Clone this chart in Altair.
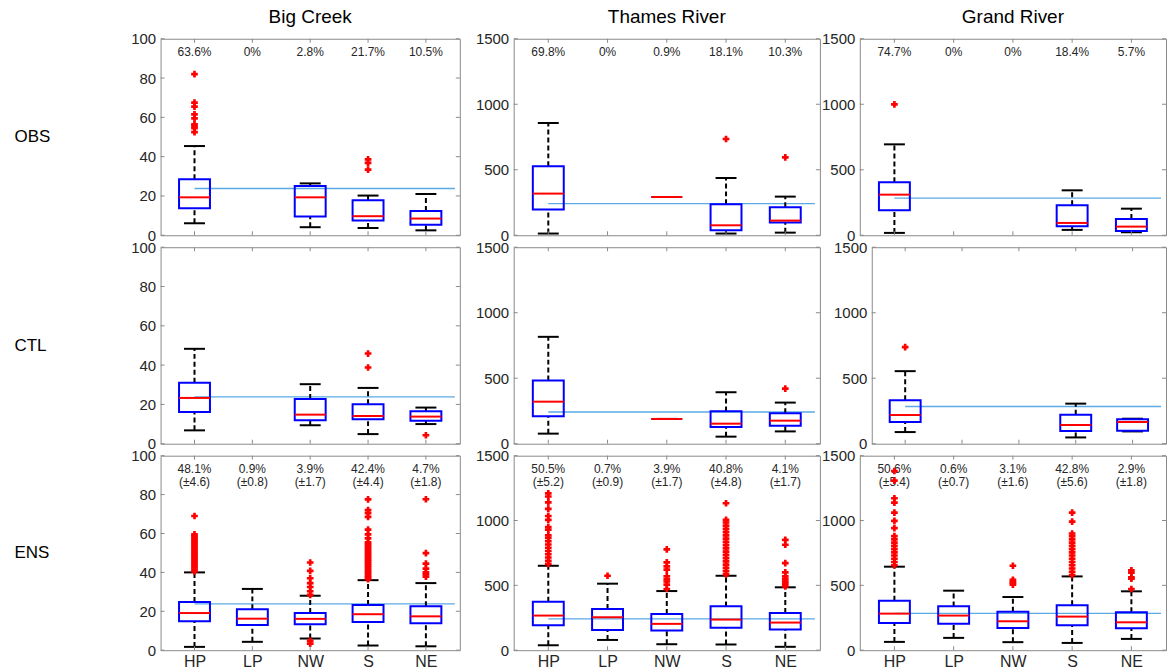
import altair as alt
import pandas as pd

CATS = ["HP", "LP", "NW", "S", "NE"]
SITES = ["Big Creek", "Thames River", "Grand River"]
ROWS = ["OBS", "CTL", "ENS"]
Y_MAX = [100, 1500, 1500]
Y_TICKS = [[0, 20, 40, 60, 80, 100], [0, 500, 1000, 1500], [0, 500, 1000, 1500]]
REF = [23.8, 242, 284]

# box stats per category: [lower whisker, q1, median, q3, upper whisker]
BC_OBS_BOX = [[6.1, 13.7, 19.3, 28.5, 45.4], None, [4.1, 9.5, 19.3, 25.1, 26.4],
              [3.7, 7.5, 9.7, 17.8, 20.2], [2.5, 5.4, 8.5, 12.4, 21.0]]
BC_OBS_OUT = [[52.5, 54.5, 55.5, 56.5, 59.5, 61.5, 65.5, 67.5, 82.0], [], [], [33.4, 36.8, 38.6], []]
BC_OBS_PCT = ["63.6%", "0%", "2.8%", "21.7%", "10.5%"]

BC_CTL_BOX = [[6.8, 16.2, 23.3, 31.0, 48.3], None, [9.4, 11.9, 14.8, 22.8, 30.3],
              [4.9, 12.4, 14.1, 20.1, 28.4], [10.0, 11.7, 13.8, 16.5, 18.4]]
BC_CTL_OUT = [[], [], [], [38.8, 45.9], [4.3]]

BC_ENS_BOX = [[1.7, 14.9, 19.1, 24.8, 40.0], [4.3, 13.0, 16.2, 21.0, 31.5], [6.0, 13.3, 16.1, 19.1, 28.0],
              [2.4, 14.5, 18.5, 23.2, 36.0], [2.0, 13.8, 17.4, 22.6, 34.5]]
BC_ENS_OUT = [[40.5, 41.5, 42.5, 43.5, 44.5, 45.5, 46.5, 47.5, 48.5, 49.5, 50.5, 51.5, 52.5, 53.5,
               54.5, 55.5, 56.5, 57.5, 58.5, 59.5, 69.0],
              [],
              [3.4, 4.8, 28.4, 30.3, 32.5, 34.5, 37.0, 40.8, 45.1],
              [36.5, 37.5, 38.5, 39.5, 40.5, 41.5, 42.5, 43.5, 44.5, 45.5, 46.5, 47.5, 48.5, 49.5, 50.5,
               51.5, 52.5, 53.5, 54.5, 55.5, 57.5, 59.5, 62.0, 68.5, 70.5, 72.0, 77.5],
              [37.8, 39.0, 40.0, 41.9, 44.5, 49.9, 77.6]]
BC_ENS_PCT = ["48.1%\n(±4.6)", "0.9%\n(±0.8)", "3.9%\n(±1.7)", "42.4%\n(±4.4)", "4.7%\n(±1.8)"]

TR_OBS_BOX = [[13, 196, 318, 526, 857], None, [292, 292, 292, 292, 292],
              [13, 38, 76, 236, 437], [20, 97, 112, 214, 295]]
TR_OBS_OUT = [[], [], [], [735], [595]]
TR_OBS_PCT = ["69.8%", "0%", "0.9%", "18.1%", "10.3%"]

TR_CTL_BOX = [[77, 209, 321, 482, 816], None, [189, 189, 189, 189, 189],
              [54, 128, 153, 247, 393], [94, 138, 176, 232, 314]]
TR_CTL_OUT = [[], [], [], [], [421]]

TR_ENS_BOX = [[38, 192, 267, 374, 651], [79, 156, 254, 318, 513], [46, 151, 203, 279, 456],
              [44, 174, 236, 338, 574], [26, 159, 213, 287, 485]]
TR_ENS_OUT = [[665, 690, 715, 740, 765, 790, 815, 840, 865, 885, 930, 950, 1005, 1035, 1090, 1140, 1185, 1210],
              [574],
              [472, 505, 530, 548, 570, 622, 646, 677, 777],
              [585, 610, 635, 660, 685, 710, 735, 760, 785, 810, 835, 860, 885, 910, 935, 960, 985, 1005, 1133],
              [492, 513, 530, 548, 569, 600, 672, 813, 851]]
TR_ENS_PCT = ["50.5%\n(±5.2)", "0.7%\n(±0.9)", "3.9%\n(±1.7)", "40.8%\n(±4.8)", "4.1%\n(±1.7)"]

GR_OBS_BOX = [[18, 191, 310, 404, 694], None, None, [41, 69, 94, 229, 343], [23, 33, 66, 125, 203]]
GR_OBS_OUT = [[999], [], [], [], []]
GR_OBS_PCT = ["74.7%", "0%", "0%", "18.4%", "5.7%"]

GR_CTL_BOX = [[89, 166, 219, 332, 554], None, None, [48, 97, 143, 222, 306], [94, 99, 166, 186, 191]]
GR_CTL_OUT = [[737], [], [], [], []]

GR_ENS_BOX = [[64, 210, 282, 382, 644], [95, 203, 267, 338, 459], [62, 172, 223, 297, 410],
              [56, 192, 259, 346, 569], [87, 169, 215, 292, 454]]
GR_ENS_OUT = [[655, 680, 705, 730, 755, 780, 805, 830, 855, 880, 941, 997, 1061, 1138, 1172, 1308, 1382],
              [],
              [505, 518, 530, 543, 651],
              [580, 605, 630, 655, 680, 705, 730, 755, 780, 805, 830, 855, 880, 900, 992, 1061],
              [472, 552, 562, 598, 615]]
GR_ENS_PCT = ["50.6%\n(±5.4)", "0.6%\n(±0.7)", "3.1%\n(±1.6)", "42.8%\n(±5.6)", "2.9%\n(±1.8)"]

PANELS = [
    [(BC_OBS_BOX, BC_OBS_OUT, BC_OBS_PCT), (TR_OBS_BOX, TR_OBS_OUT, TR_OBS_PCT), (GR_OBS_BOX, GR_OBS_OUT, GR_OBS_PCT)],
    [(BC_CTL_BOX, BC_CTL_OUT, []), (TR_CTL_BOX, TR_CTL_OUT, []), (GR_CTL_BOX, GR_CTL_OUT, [])],
    [(BC_ENS_BOX, BC_ENS_OUT, BC_ENS_PCT), (TR_ENS_BOX, TR_ENS_OUT, TR_ENS_PCT), (GR_ENS_BOX, GR_ENS_OUT, GR_ENS_PCT)],
]

FONT = "Liberation Sans"
TXT = "#262626"
GREY = "#8a8a8a"
WIDTHS = [[300, 307, 307], [300, 307, 295], [300, 307, 307]]
EXTENTS = [[None, 52, 38], [None, 52, 50], [None, 52, 38]]
HEIGHTS = [197, 197, 195]
LABEL_EXPR = "[" + ",".join("'%s'" % c for c in CATS) + "][datum.value - 1]"


def make_panel(ri, si):
    box, out, pct = PANELS[ri][si]
    width = WIDTHS[ri][si]
    height = HEIGHTS[ri]
    xs = alt.Scale(domain=[0.5, 5.5], nice=False, zero=False)
    ys = alt.Scale(domain=[0, Y_MAX[si]], nice=False, zero=False)

    if ri == 2:
        xaxis = alt.Axis(values=[1, 2, 3, 4, 5], labelExpr=LABEL_EXPR, ticks=False, domain=False,
                         grid=False, labelFontSize=16, labelColor=TXT, labelPadding=3, title=None,
                         labelFont=FONT)
    else:
        xaxis = None

    yargs = dict(values=Y_TICKS[si], format="d", ticks=False, domain=False, grid=False, labelFontSize=15,
                 labelColor=TXT, labelPadding=5, labelFont=FONT)
    if EXTENTS[ri][si] is not None:
        yargs["minExtent"] = EXTENTS[ri][si]
        yargs["maxExtent"] = EXTENTS[ri][si]
    if si == 0:
        yargs.update(title=ROWS[ri], titleAngle=0, titleX=-147, titleY=height / 2, titleAlign="left",
                     titleBaseline="middle", titleFontSize=17, titleFontWeight="normal",
                     titleColor="black", titleFont=FONT)
    else:
        yargs["title"] = None
    yaxis = alt.Axis(**yargs)

    def X(f):
        return alt.X(f"{f}:Q", scale=xs, axis=xaxis)

    def Y(f):
        return alt.Y(f"{f}:Q", scale=ys, axis=yaxis)

    box_rows = []
    for i, b in enumerate(box):
        if b is None:
            continue
        box_rows.append(dict(pos=i + 1, cat=CATS[i], low=b[0], q1=b[1], med=b[2], q3=b[3], high=b[4]))
    box_df = pd.DataFrame(box_rows)
    out_df = pd.DataFrame([dict(pos=i + 1, v=v) for i, vs in enumerate(out) for v in vs])
    ref_df = pd.DataFrame([dict(x0=1, x1=5.5, v=REF[si])])
    xt_df = pd.DataFrame(dict(pos=[1, 2, 3, 4, 5]))
    yt_df = pd.DataFrame(dict(v=Y_TICKS[si]))

    layers = []
    layers.append(alt.Chart(ref_df).mark_rule(color="#5aaae6", strokeWidth=1.3).encode(
        x=X("x0"), x2="x1", y=Y("v")))
    layers.append(alt.Chart(box_df).mark_rule(color="black", strokeWidth=2, strokeDash=[5, 3]).encode(
        x=X("pos"), y=Y("q3"), y2="high"))
    layers.append(alt.Chart(box_df).mark_rule(color="black", strokeWidth=2, strokeDash=[5, 3]).encode(
        x=X("pos"), y=Y("low"), y2="q1"))
    layers.append(alt.Chart(box_df).mark_tick(orient="horizontal", size=21, thickness=2, color="black",
                                              opacity=1).encode(x=X("pos"), y=Y("high")))
    layers.append(alt.Chart(box_df).mark_tick(orient="horizontal", size=21, thickness=2, color="black",
                                              opacity=1).encode(x=X("pos"), y=Y("low")))
    layers.append(alt.Chart(box_df).mark_bar(width=31, filled=False, color="#0000ff", strokeWidth=2,
                                             opacity=1).encode(x=X("pos"), y=Y("q1"), y2="q3"))
    layers.append(alt.Chart(box_df).mark_tick(orient="horizontal", size=31, thickness=2, color="#ff0000",
                                              opacity=1).encode(x=X("pos"), y=Y("med")))
    if pct:
        pct_df = pd.DataFrame(dict(pos=[1, 2, 3, 4, 5], label=pct))
        layers.append(alt.Chart(pct_df).mark_text(baseline="top", align="center", fontSize=12,
                                                  lineBreak="\n", lineHeight=13, color=TXT, font=FONT).encode(
            x=X("pos"), y=alt.value(8), text="label:N"))
    if len(out_df):
        layers.append(alt.Chart(out_df).mark_point(shape="cross", filled=True, color="#ff0000", size=45,
                                                   opacity=1, strokeWidth=0).encode(x=X("pos"), y=Y("v")))
    # inward tick marks (axis decoration)
    layers.append(alt.Chart(xt_df).mark_rule(color=GREY, strokeWidth=1).encode(
        x=X("pos"), y=alt.value(0), y2=alt.value(4)))
    layers.append(alt.Chart(xt_df).mark_rule(color=GREY, strokeWidth=1).encode(
        x=X("pos"), y=alt.value(height), y2=alt.value(height - 4)))
    layers.append(alt.Chart(yt_df).mark_rule(color=GREY, strokeWidth=1).encode(
        y=Y("v"), x=alt.value(0), x2=alt.value(4)))
    layers.append(alt.Chart(yt_df).mark_rule(color=GREY, strokeWidth=1).encode(
        y=Y("v"), x=alt.value(width), x2=alt.value(width - 4)))

    props = dict(width=width, height=height)
    if ri == 0:
        props["title"] = alt.TitleParams(SITES[si], fontSize=19, fontWeight="normal", offset=5,
                                         font=FONT, color="black", anchor="middle")
    return alt.layer(*layers).properties(**props)


rows = [alt.hconcat(*[make_panel(ri, si) for si in range(3)], spacing=0) for ri in range(3)]
chart = alt.vconcat(*rows, spacing=-5).properties(
    padding={"left": 13, "top": 6, "right": 0, "bottom": 0},
    background="white",
).configure(font=FONT).configure_view(stroke=GREY, strokeWidth=1)

chart.save("out.html", embed_options={"renderer": "svg", "actions": False})
